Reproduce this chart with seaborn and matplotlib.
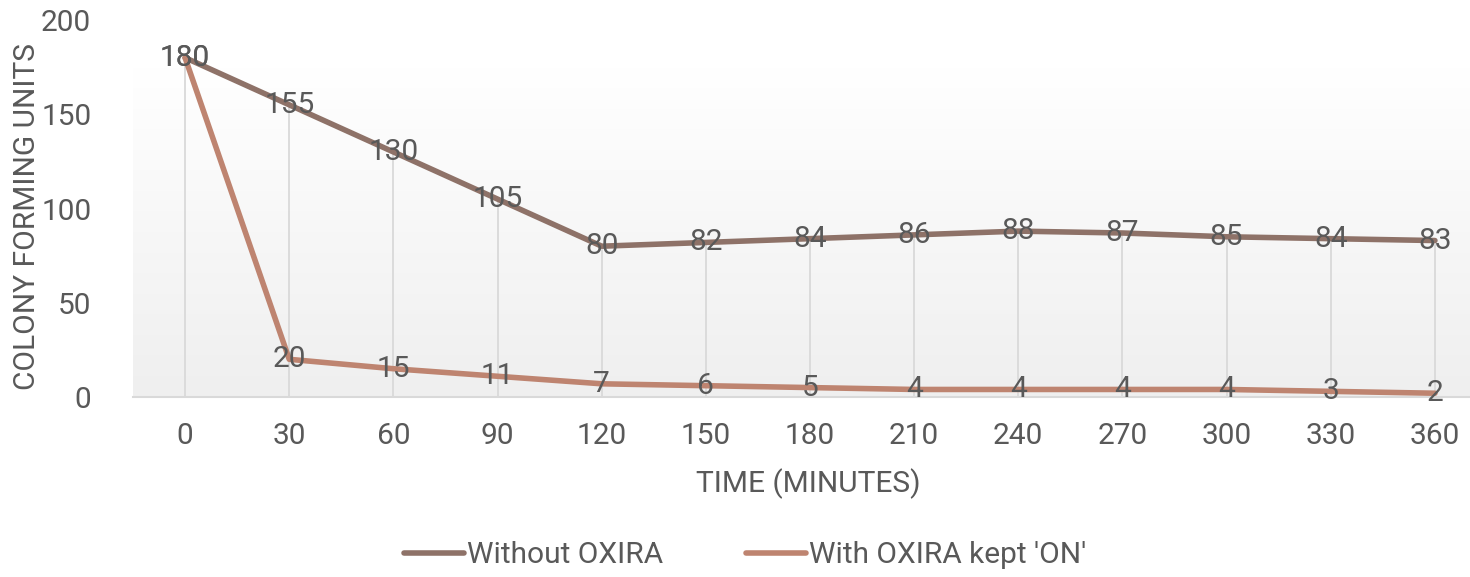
import numpy as np
import pandas as pd
import matplotlib
matplotlib.use("Agg")
import matplotlib.pyplot as plt
import seaborn as sns

# datos
minutes = [0, 30, 60, 90, 120, 150, 180, 210, 240, 270, 300, 330, 360]
without_oxira = [180, 155, 130, 105, 80, 82, 84, 86, 88, 87, 85, 84, 83]
with_oxira = [180, 20, 15, 11, 7, 6, 5, 4, 4, 4, 4, 3, 2]

series_names = ["Without OXIRA", "With OXIRA kept 'ON'"]
colors = ["#8e7268", "#be8470"]
text_color = "#595959"

df = pd.DataFrame({"pos": range(len(minutes)),
                   series_names[0]: without_oxira,
                   series_names[1]: with_oxira})
long = df.melt(id_vars="pos", var_name="serie", value_name="cfu")

sns.set_style("white")
plt.rcParams["font.family"] = ["Roboto", "DejaVu Sans"]
fs = 21.5

fig = plt.figure(figsize=(14.7, 5.77), dpi=100)
ax = fig.add_axes([133 / 1470, 1 - 397 / 577, (1487 - 133) / 1470, (397 - 20) / 577])

# fondo degradado
cmap = matplotlib.colors.LinearSegmentedColormap.from_list("g2", ["#efefef", "#ffffff"])
ax.imshow(np.linspace(0, 1, 256).reshape(-1, 1), extent=[-0.5, 12.5, 0, 175], aspect="auto",
          cmap=cmap, zorder=0, origin="lower")

# lineas de caida
top = np.maximum(without_oxira, with_oxira)
ax.vlines(df["pos"], 0, top, color="#d9d9d9", lw=1.3, zorder=1)

sns.lineplot(data=long, x="pos", y="cfu", hue="serie", palette=colors, lw=4,
             ax=ax, zorder=3, legend=False)

for name, vals in zip(series_names, [without_oxira, with_oxira]):
    for i, v in enumerate(vals):
        ax.text(i, v, str(v), ha="center", va="center", fontsize=fs, color=text_color, zorder=4)

ax.set_xlim(-0.5, 12.5)
ax.set_ylim(0, 200)
ax.set_xticks(range(len(minutes)))
ax.set_xticklabels([str(m) for m in minutes])
ax.set_yticks([0, 50, 100, 150, 200])
ax.tick_params(axis="both", labelsize=fs, colors=text_color, length=0)
ax.tick_params(axis="x", pad=18)
ax.tick_params(axis="y", pad=30)
for s in ["top", "right", "left"]:
    ax.spines[s].set_visible(False)
ax.spines["bottom"].set_color("#d9d9d9")
ax.spines["bottom"].set_linewidth(1.5)

ax.set_xlabel("TIME (MINUTES)", fontsize=fs, color=text_color)
ax.set_ylabel("COLONY FORMING UNITS", fontsize=fs, color=text_color)
ax.yaxis.set_label_coords(-0.068, 0.48)
ax.xaxis.set_label_coords((808 - 133) / (1487 - 133), -0.19)

handles = [plt.Line2D([0], [0], color=c, lw=4, solid_capstyle="round") for c in colors]
fig.legend(handles, series_names, loc="center", bbox_to_anchor=(745 / 1470, 1 - 555 / 577),
           ncol=2, frameon=False, fontsize=fs, handlelength=2.0, handletextpad=0.1,
           columnspacing=2.8, labelcolor=text_color)

fig.savefig("out.png", dpi=100)
